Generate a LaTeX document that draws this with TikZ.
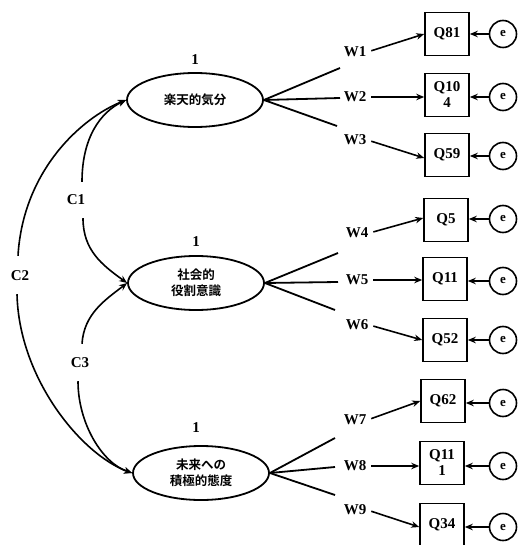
\documentclass[tikz,border=0pt]{standalone}
\usepackage{fontspec}
\setmainfont{Liberation Serif}
\newfontfamily\jp{Noto Sans CJK JP Bold}
\usetikzlibrary{arrows.meta,shapes.geometric,calc}
\begin{document}
\begin{tikzpicture}[x=1pt,y=-1pt,
 lat/.style={draw,line width=1.8pt,ellipse,minimum width=136pt,minimum height=54pt,inner sep=0pt,align=center,font=\jp\fontsize{12.5}{15.5}\selectfont},
 obs/.style={draw,line width=1.6pt,minimum width=44pt,minimum height=43pt,inner sep=1pt,align=center,font=\bfseries\fontsize{15}{16}\selectfont},
 err/.style={draw,circle,line width=1.6pt,minimum size=27pt,inner sep=0pt,font=\bfseries\fontsize{13}{13}\selectfont},
 lbl/.style={font=\bfseries\fontsize{15}{15}\selectfont,inner sep=1pt},
 arr/.style={-{Stealth[length=8pt,width=6.5pt]},line width=1.6pt},
 ln/.style={line width=1.8pt}
]
\useasboundingbox (0,0) rectangle (518,545);
% latent variables
\node[lat] (L1) at (195,100) {楽天的気分};
\node[lat] (L2) at (196,283) {社会的\\役割意識};
\node[lat] (L3) at (201,473) {未来への\\積極的態度};
\node[lbl] (v1) at (195,60) {1};
\node[lbl] (v2) at (196,242) {1};
\node[lbl] (v3) at (196,428) {1};
% observed
\node[obs] (Q81) at (447,34) {Q81};
\node[obs] (Q104) at (447,95) {Q10\\4};
\node[obs] (Q59) at (447,155) {Q59};
\node[obs] (Q5) at (446,220) {Q5};
\node[obs] (Q11) at (445,279) {Q11};
\node[obs] (Q52) at (445,340) {Q52};
\node[obs] (Q62) at (443,401) {Q62};
\node[obs] (Q111) at (442,463) {Q11\\1};
\node[obs] (Q34) at (442,525) {Q34};
% errors
\foreach \n/\q/\y in {e1/Q81/34,e2/Q104/97,e3/Q59/156,e4/Q5/219,e5/Q11/281,e6/Q52/340,e7/Q62/403,e8/Q111/466,e9/Q34/527}{
  \node[err] (\n) at (503,\y) {e};
  \draw[arr] (\n) -- (\q.east |- \n);
}
% W labels
\node[lbl] (W1) at (355,52) {W1};
\node[lbl] (W2) at (355,97) {W2};
\node[lbl] (W3) at (355,140) {W3};
\node[lbl] (W4) at (357,233) {W4};
\node[lbl] (W5) at (357,280) {W5};
\node[lbl] (W6) at (357,325) {W6};
\node[lbl] (W7) at (355,420) {W7};
\node[lbl] (W8) at (355,466) {W8};
\node[lbl] (W9) at (355,510) {W9};
% fan line ends
\coordinate (f1) at (340,68);
\coordinate (f2) at (340,98);
\coordinate (f3) at (337,126);
\coordinate (f4) at (338,253);
\coordinate (f5) at (338,282);
\coordinate (f6) at (335,310);
\coordinate (f7) at (335,438);
\coordinate (f8) at (335,467);
\coordinate (f9) at (335,495);
\foreach \f in {f1,f2,f3}{\draw[ln] (L1.east) -- (\f);}
\foreach \f in {f4,f5,f6}{\draw[ln] (L2.east) -- (\f);}
\foreach \f in {f7,f8,f9}{\draw[ln] (L3.east) -- (\f);}
% loadings arrows
\draw[arr,shorten <=4pt] (W1.east) -- (Q81.west);
\draw[arr,shorten <=4pt] (W2.east) -- (Q104.west |- W2.east);
\draw[arr,shorten <=4pt] (W3.east) -- ($(Q59.west)+(0,3)$);
\draw[arr,shorten <=4pt] (W4.east) -- ($(Q5.west)+(0,-2)$);
\draw[arr,shorten <=4pt] (W5.east) -- (Q11.west |- W5.east);
\draw[arr,shorten <=4pt] (W6.east) -- (Q52.west);
\draw[arr,shorten <=4pt] (W7.east) -- (Q62.west);
\draw[arr,shorten <=4pt] (W8.east) -- (Q111.west |- W8.east);
\draw[arr,shorten <=4pt] (W9.east) -- ($(Q34.west)+(0,2)$);
% covariance labels
\node[lbl] (C1) at (76,200) {C1};
\node[lbl] (C2) at (20,276) {C2};
\node[lbl] (C3) at (80,363) {C3};
\draw[arr] ($(C1.north)+(6,-12)$) .. controls +(0,-45) and +(-25,12) .. (L1.west);
\draw[arr] ($(C2.north)+(-2,-14)$) .. controls +(5,-85) and +(-45,18) .. (L1.west);
\draw[arr] ($(C1.south)+(7,12)$) .. controls +(0,32) and +(-25,-18) .. (L2.west);
\draw[arr] ($(C3.north)+(2,-13)$) .. controls +(2,-30) and +(-22,17) .. (L2.west);
\draw[arr] ($(C2.south)+(-3,12)$) .. controls +(2,85) and +(-50,-18) .. (L3.west);
\draw[arr] ($(C3.south)+(-2,12)$) .. controls +(0,42) and +(-30,-10) .. (L3.west);
\end{tikzpicture}
\end{document}
